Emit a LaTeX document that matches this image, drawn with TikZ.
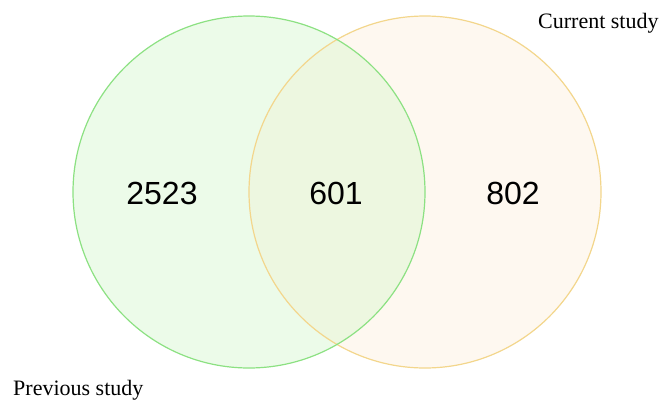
\documentclass[tikz,border=0pt]{standalone}
\usepackage{fontspec}
\setmainfont{Liberation Serif}
\newfontfamily\numfont{Liberation Sans}
\definecolor{gfill}{RGB}{236,251,233}
\definecolor{gline}{RGB}{140,225,130}
\definecolor{yfill}{RGB}{254,248,240}
\definecolor{yline}{RGB}{243,214,140}
\definecolor{ifill}{RGB}{237,247,224}
\begin{document}
\begin{tikzpicture}[x=1pt,y=-1pt,
  num/.style={font=\numfont\fontsize{32}{32}\selectfont, inner sep=0pt},
  lab/.style={font=\fontsize{22}{24}\selectfont, inner sep=0pt, anchor=base west}]
\useasboundingbox (0,0) rectangle (666,400);
\fill[gfill] (249,192) circle (176);
\fill[yfill] (425,192) circle (176);
\begin{scope}
  \clip (249,192) circle (176);
  \fill[ifill] (425,192) circle (176);
\end{scope}
\draw[yline, line width=1.2pt] (425,192) circle (176);
\draw[gline, line width=1.2pt] (249,192) circle (176);
\node[num] (a) at (162,193) {2523};
\node[num] (b) at (336,193) {601};
\node[num] (c) at (513,193) {802};
\node[lab] (cur) at (538,28) {Current study};
\node[lab] (prev) at (13,395) {Previous study};
\end{tikzpicture}
\end{document}
